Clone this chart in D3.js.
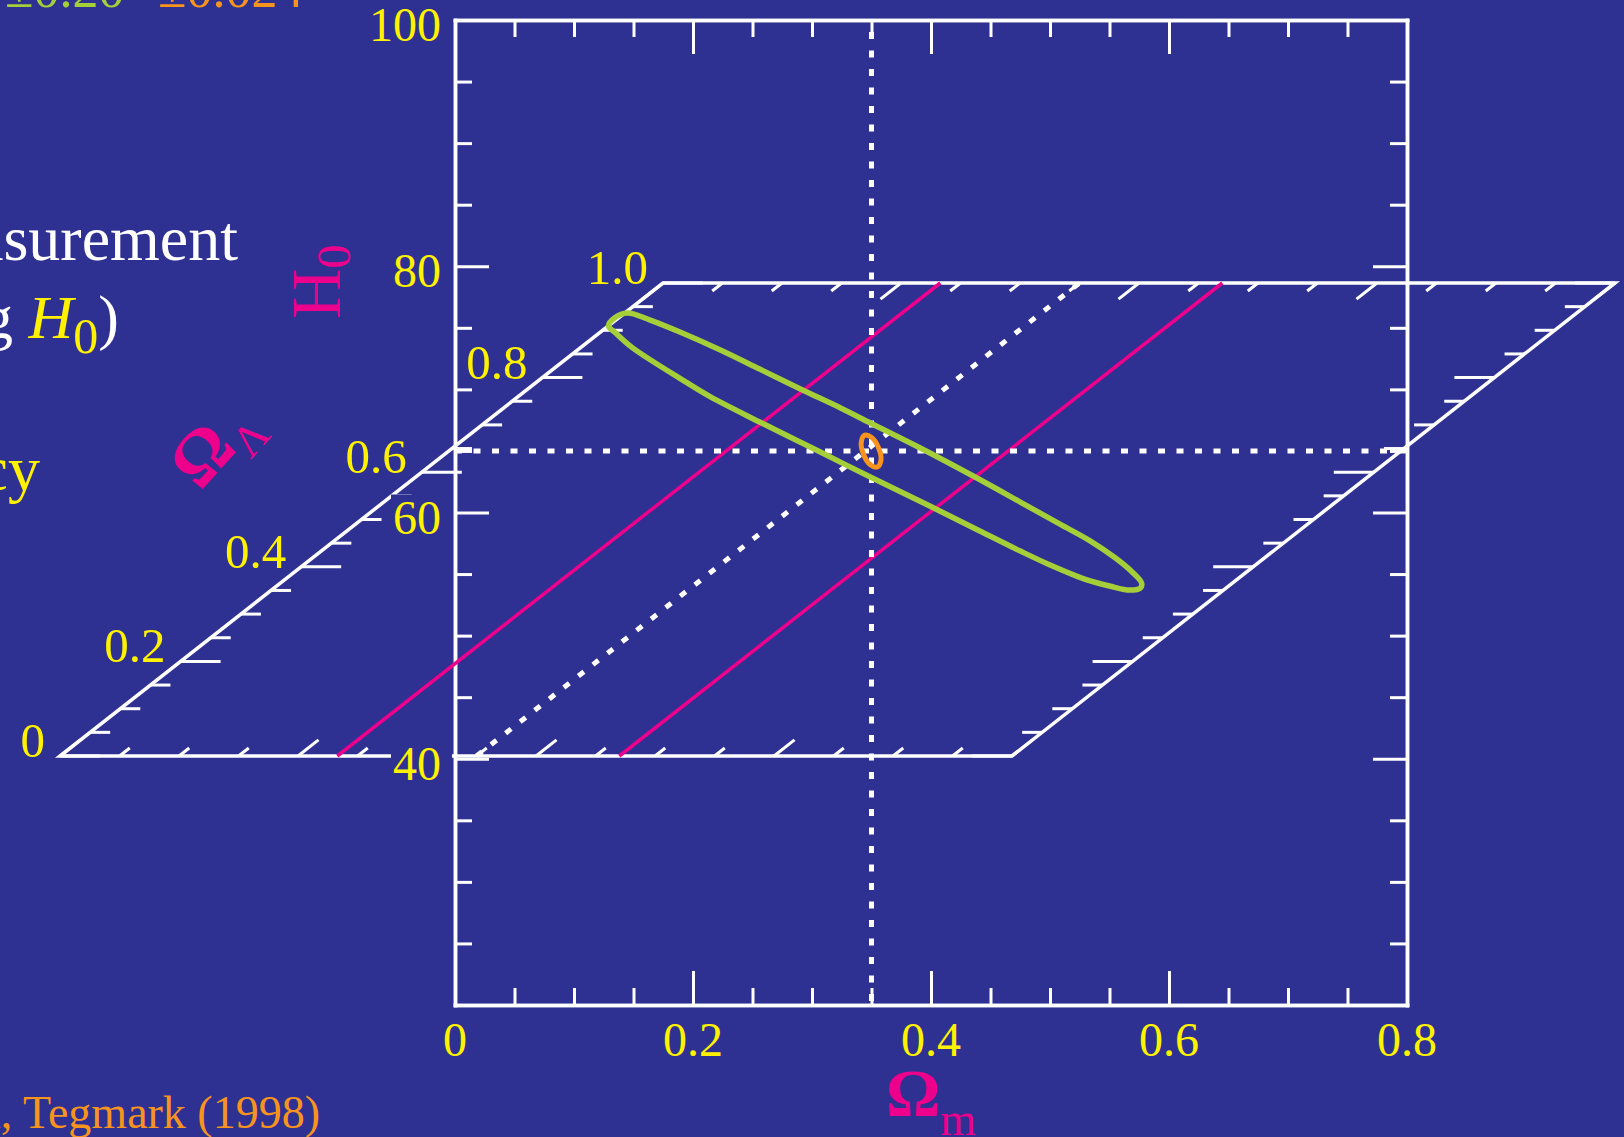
<!DOCTYPE html>
<html>
<head>
<meta charset="utf-8">
<script src="https://cdn.jsdelivr.net/npm/d3@7"></script>
<style>
  html, body { margin: 0; padding: 0; background: #2e3192; overflow: hidden; }
  svg { display: block; }
  text { font-family: "Liberation Serif", "Times New Roman", serif; }
</style>
</head>
<body>
<svg id="chart" width="1624" height="1137"></svg>
<script>
// ---- axis ticks -------------------------------------------------------
const omMajor = [0, 0.2, 0.4, 0.6, 0.8];
const omLabels = ["0", "0.2", "0.4", "0.6", "0.8"];
const h0Major = [20, 40, 60, 80, 100];
const h0Labels = ["", "40", "60", "80", "100"];
const olMajor = [0, 0.2, 0.4, 0.6, 0.8, 1.0];
const olLabels = ["0", "0.2", "0.4", "0.6", "0.8", "1.0"];

// ---- fiducial model and constraints -----------------------------------
const fiducialOm = 0.35;
const fiducialOl = 0.65;
const fiducialH0 = 65;
const omBand = [0.233, 0.47];          // shape-parameter band on the floor

// CMB degeneracy contour, (Omega_m, H0)
const cmbContour = [
  [0.129, 75.15], [0.134, 75.80], [0.145, 76.20], [0.164, 75.63], [0.189, 74.66],
  [0.223, 73.20], [0.256, 71.65], [0.292, 69.95], [0.324, 68.49], [0.349, 67.27],
  [0.391, 65.24], [0.437, 62.88], [0.475, 60.85], [0.508, 59.07], [0.534, 57.68],
  [0.555, 56.30], [0.569, 55.17], [0.577, 54.27], [0.576, 53.87], [0.567, 53.70],
  [0.550, 54.03], [0.531, 54.52], [0.500, 55.74], [0.475, 56.87], [0.441, 58.50],
  [0.399, 60.53], [0.349, 62.88], [0.307, 64.91], [0.256, 67.35], [0.214, 69.43],
  [0.189, 70.90], [0.168, 72.16], [0.149, 73.39], [0.135, 74.58]
];

// combined (MAP) error contour, (Omega_m, H0)
const mapContour = [
  [0.3550, 63.70], [0.3580, 64.29], [0.3560, 65.24], [0.3503, 66.08],
  [0.3443, 66.28], [0.3414, 65.70], [0.3432, 64.75], [0.3488, 63.90]
];

// ---- colours ------------------------------------------------------------
const BG = "#2e3192", WHITE = "#ffffff", YELLOW = "#fff200",
      PINK = "#ec008c", GREEN = "#a6ce39", ORANGE = "#f7941d";

const svg = d3.select("#chart");
svg.append("rect").attr("width", 1624).attr("height", 1137).attr("fill", BG);

// ---- scales ---------------------------------------------------------------
// H0 vs Omega_m panel
const x = d3.scaleLinear().domain([0, 0.8]).range([455, 1407]);
const y = d3.scaleLinear().domain([20, 100]).range([1005, 20]);
// Omega_m - Omega_Lambda floor drawn in oblique projection
const fx = d3.scaleLinear().domain([0, 0.8]).range([60, 1012]);
const fy = d3.scaleLinear().domain([0, 1]).range([756, 283]);
const fskew = d3.scaleLinear().domain([0, 1]).range([0, 603]);
const floorPt = (om, ol) => [fx(om) + fskew(ol), fy(ol)];

const isMajor = (v, step) => Math.abs(v / step - Math.round(v / step)) < 1e-6;
const omSteps = d3.range(0, 0.8001, 0.05);
const olSteps = d3.range(0, 1.0001, 0.05);
const h0Steps = d3.range(20, 100.001, 5);

// ---- floor ----------------------------------------------------------------
const floor = svg.append("g").attr("stroke", WHITE).attr("fill", "none");
floor.append("path")
  .attr("d", d3.line()([[0, 0], [0.8, 0], [0.8, 1], [0, 1]].map(p => floorPt(p[0], p[1]))) + "Z")
  .attr("stroke-width", 3.5).attr("stroke-linejoin", "miter");

olSteps.forEach(ol => {
  const len = isMajor(ol, 0.2) ? 40 : 20;
  const [lx, ly] = floorPt(0, ol);
  const [rx, ry] = floorPt(0.8, ol);
  floor.append("line").attr("x1", lx).attr("y1", ly).attr("x2", lx + len).attr("y2", ly).attr("stroke-width", 3);
  floor.append("line").attr("x1", rx).attr("y1", ry).attr("x2", rx - len).attr("y2", ry).attr("stroke-width", 3);
});
omSteps.forEach(om => {
  const d = isMajor(om, 0.2) ? 0.034 : 0.017;
  const b0 = floorPt(om, 0), b1 = floorPt(om, d);
  const t0 = floorPt(om, 1), t1 = floorPt(om, 1 - d);
  floor.append("line").attr("x1", b0[0]).attr("y1", b0[1]).attr("x2", b1[0]).attr("y2", b1[1]).attr("stroke-width", 3);
  floor.append("line").attr("x1", t0[0]).attr("y1", t0[1]).attr("x2", t1[0]).attr("y2", t1[1]).attr("stroke-width", 3);
});

// floor tick labels (Omega_Lambda)
const olText = svg.append("g").attr("fill", YELLOW).attr("font-size", 49).attr("text-anchor", "end");
olMajor.forEach((ol, i) => {
  const [px, py] = floorPt(0, ol);
  olText.append("text").attr("x", px - 15).attr("y", py + 1).text(olLabels[i]);
});

// ---- H0 panel frame and ticks ---------------------------------------------
function frameAxis(gen, tx, ty, values, size) {
  const g = svg.append("g").attr("transform", `translate(${tx},${ty})`)
    .call(gen.tickValues(values).tickSize(-size).tickSizeOuter(0).tickFormat(""));
  g.selectAll(".domain").attr("stroke", WHITE).attr("stroke-width", 3.5).attr("stroke-linecap", "square");
  g.selectAll(".tick line").attr("stroke", WHITE).attr("stroke-width", 3);
  return g;
}
const minorOm = omSteps.filter(v => !isMajor(v, 0.2));
const minorH0 = h0Steps.filter(v => !isMajor(v, 20));

// labels for H0 (background patch keeps the floor edge from running through them)
const h0Text = svg.append("g");
h0Major.forEach((v, i) => {
  if (!h0Labels[i]) return;
  const t = h0Text.append("text").attr("x", 441).attr("y", y(v) + 21)
    .attr("text-anchor", "end").attr("font-size", 48).attr("fill", YELLOW).text(h0Labels[i]);
  const bb = t.node().getBBox();
  h0Text.insert("rect", "text").attr("x", bb.x - 2).attr("y", bb.y + 4)
    .attr("width", 452 - bb.x + 2).attr("height", bb.height - 8).attr("fill", BG);
});

frameAxis(d3.axisBottom(x), 0, y(20), minorOm, 17);
frameAxis(d3.axisBottom(x), 0, y(20), omMajor, 34);
frameAxis(d3.axisTop(x), 0, y(100), minorOm, 17);
frameAxis(d3.axisTop(x), 0, y(100), omMajor, 34);
frameAxis(d3.axisLeft(y), x(0), 0, minorH0, 17);
frameAxis(d3.axisLeft(y), x(0), 0, h0Major, 34);
frameAxis(d3.axisRight(y), x(0.8), 0, minorH0, 17);
frameAxis(d3.axisRight(y), x(0.8), 0, h0Major, 34);
h0Text.raise();

// Omega_m tick labels
const omText = svg.append("g").attr("fill", YELLOW).attr("font-size", 48).attr("text-anchor", "middle");
omMajor.forEach((v, i) => omText.append("text").attr("x", x(v)).attr("y", 1056).text(omLabels[i]));

// ---- band lines on the floor ---------------------------------------------
const lines = svg.append("g").attr("fill", "none");
omBand.forEach(om => {
  const a = floorPt(om, 0), b = floorPt(om, 1);
  lines.append("line").attr("x1", a[0]).attr("y1", a[1]).attr("x2", b[0]).attr("y2", b[1])
    .attr("stroke", PINK).attr("stroke-width", 3.5);
});

// ---- fiducial dotted guides ----------------------------------------------
const dots = svg.append("g").attr("stroke", WHITE).attr("stroke-width", 5).attr("stroke-dasharray", "7 11.5");
dots.append("line").attr("x1", x(fiducialOm)).attr("y1", y(100) + 12).attr("x2", x(fiducialOm)).attr("y2", y(20));
dots.append("line").attr("x1", x(0)).attr("y1", y(fiducialH0)).attr("x2", x(0.8)).attr("y2", y(fiducialH0));
{
  const a = floorPt(fiducialOm, 0), b = floorPt(fiducialOm, 1);
  dots.append("line").attr("x1", a[0]).attr("y1", a[1]).attr("x2", b[0]).attr("y2", b[1]);
}

// ---- contours ---------------------------------------------------------------
const contourLine = d3.line().x(d => x(d[0])).y(d => y(d[1])).curve(d3.curveCatmullRomClosed.alpha(0.5));
svg.append("path").attr("d", contourLine(cmbContour))
  .attr("fill", "none").attr("stroke", GREEN).attr("stroke-width", 5.5).attr("stroke-linejoin", "round");
svg.append("path").attr("d", contourLine(mapContour))
  .attr("fill", "none").attr("stroke", ORANGE).attr("stroke-width", 5);

// ---- axis titles ------------------------------------------------------------
const omTitle = svg.append("text").attr("x", 931).attr("y", 1116).attr("text-anchor", "middle").attr("fill", PINK);
omTitle.append("tspan").attr("font-size", 68).attr("font-weight", "bold").text("Ω");
omTitle.append("tspan").attr("font-size", 46).attr("dy", 19).text("m");

const h0Title = svg.append("text").attr("transform", "translate(340,319) rotate(-90)").attr("fill", PINK);
h0Title.append("tspan").attr("font-size", 70).text("H");
h0Title.append("tspan").attr("font-size", 48).attr("dy", 10).text("0");

const olTitle = svg.append("text").attr("transform", "translate(200,492) rotate(-48)").attr("fill", PINK);
olTitle.append("tspan").attr("font-size", 72).attr("font-weight", "bold").text("Ω");
olTitle.append("tspan").attr("font-size", 44).attr("dy", 16).text("Λ");

// ---- side notes ---------------------------------------------------------------
const errorNote = svg.append("g").attr("font-size", 52);
errorNote.append("text").attr("x", 5).attr("y", 7).attr("fill", GREEN).text("±0.20");
errorNote.append("text").attr("x", 158).attr("y", 7).attr("fill", ORANGE).text("±0.024");

svg.append("text").attr("x", 238).attr("y", 260).attr("text-anchor", "end")
  .attr("font-size", 64).attr("fill", WHITE).text("measurement");

const note2 = svg.append("text").attr("x", 119).attr("y", 338).attr("text-anchor", "end")
  .attr("font-size", 62).attr("fill", WHITE);
note2.append("tspan").text("(assuming ");
note2.append("tspan").attr("fill", YELLOW).attr("font-style", "italic").text("H");
note2.append("tspan").attr("fill", YELLOW).attr("font-size", 50).attr("dy", 15).text("0");
note2.append("tspan").attr("dy", -15).text(")");

svg.append("text").attr("x", 40).attr("y", 490).attr("text-anchor", "end")
  .attr("font-size", 64).attr("fill", YELLOW).text("degeneracy");

svg.append("text").attr("x", 320).attr("y", 1128).attr("text-anchor", "end")
  .attr("font-size", 46).attr("fill", ORANGE).text("Eisenstein, Hu, Tegmark (1998)");
</script>
</body>
</html>
